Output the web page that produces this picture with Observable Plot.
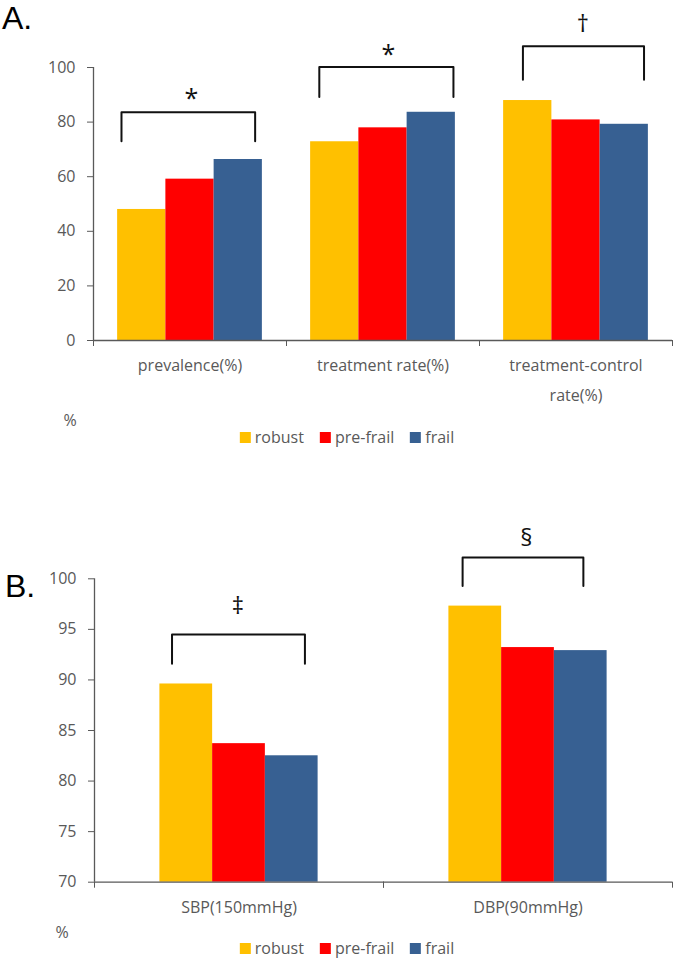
<!DOCTYPE html>
<html>
<head>
<meta charset="utf-8">
<script src="https://cdn.jsdelivr.net/npm/d3@7"></script>
<script src="https://cdn.jsdelivr.net/npm/@observablehq/plot@0.6"></script>
<style>
  body { margin: 0; background: #fff; }
  #fig { position: relative; width: 675px; height: 959px; font-family: "Open Sans", sans-serif; color: #595959; overflow: hidden; }
  .abs { position: absolute; }
  .letter { font-family: "Liberation Sans", sans-serif; font-size: 32px; line-height: normal; color: #000; }
  .pct { font-size: 16px; line-height: 16px; transform: translateX(-50%); }
  .legend { display: flex; align-items: center; font-size: 16px; line-height: 16px; transform: translateX(-50%); white-space: nowrap; }
  .legend .item { display: flex; align-items: center; margin-right: 16px; }
  .legend .item:last-child { margin-right: 0; }
  .legend .sw { width: 11px; height: 11px; margin-right: 4px; }
</style>
</head>
<body>
<div id="fig">
  <div id="panelA" class="abs" style="left:0;top:0"></div>
  <div id="panelB" class="abs" style="left:0;top:500px"></div>
  <div class="abs letter" style="left:2px;top:0px">A.</div>
  <div class="abs letter" style="left:5px;top:568px">B.</div>
  <div class="abs pct" style="left:70px;top:412px">%</div>
  <div class="abs pct" style="left:62px;top:924px">%</div>
  <div id="legendA" class="abs legend" style="left:347px;top:429px"></div>
  <div id="legendB" class="abs legend" style="left:347px;top:940px"></div>
</div>
<script>
// ---- data ----
const groups = ["robust", "pre-frail", "frail"];
const groupColors = ["#FFC000", "#FF0000", "#376092"];

const categoriesA = ["prevalence(%)", "treatment rate(%)", "treatment-control rate(%)"];
const categoryLabelsA = ["prevalence(%)", "treatment rate(%)", "treatment-control\nrate(%)"];
const robustA = [48.0, 72.8, 87.9];
const preFrailA = [59.1, 77.9, 80.8];
const frailA = [66.3, 83.6, 79.2];
const yTicksA = [0, 20, 40, 60, 80, 100];
const bracketLeftA = [0.08, 0.18, 0.40];
const bracketRightA = [2.85, 2.96, 2.91];
const bracketTopA = [83.6, 100.2, 107.8];
const bracketFootA = [73.0, 89.2, 95.5];
const symbolsA = ["*", "*", "†"];
const symbolXA = [1.53, 1.61, 1.64];
const symbolYA = [90.8, 106.6, 115.7];

const categoriesB = ["SBP(150mmHg)", "DBP(90mmHg)"];
const categoryLabelsB = ["SBP(150mmHg)", "DBP(90mmHg)"];
const robustB = [89.6, 97.3];
const preFrailB = [83.7, 93.2];
const frailB = [82.5, 92.9];
const yTicksB = [70, 75, 80, 85, 90, 95, 100];
const bracketLeftB = [0.23, 0.26];
const bracketRightB = [2.75, 2.55];
const bracketTopB = [94.5, 102.1];
const bracketFootB = [91.6, 99.3];
const symbolsB = ["‡", "§"];
const symbolXB = [1.48, 1.47];
const symbolYB = [97.3, 104.0];

const axisColor = "#595959";
const inkColor = "#111";

function panel(o) {
  const rows = [];
  o.categories.forEach((c, ci) => groups.forEach((g, gi) =>
    rows.push({category: c, group: g, value: o.series[gi][ci], x1: gi, x2: gi + 1})));
  const xDomain = [-o.outerPad, groups.length + o.outerPad];
  const bracketPts = [];
  o.categories.forEach((c, i) => {
    const l = o.bl[i], r = o.br[i], t = o.bt[i], f = o.bf[i];
    [[l, f], [l, t], [r, t], [r, f]].forEach(([x, y]) => bracketPts.push({category: c, x, y}));
  });
  const symbolRows = o.categories.map((c, i) => ({category: c, text: o.sym[i], x: o.sx[i], y: o.sy[i]}));
  const star = symbolRows.filter(d => d.text === "*");
  const other = symbolRows.filter(d => d.text !== "*");
  return Plot.plot({
    width: 675, height: o.height,
    marginLeft: 93, marginRight: 3, marginTop: o.marginTop, marginBottom: o.marginBottom,
    style: {fontFamily: '"Open Sans", sans-serif', fontSize: "16px", color: axisColor, background: "transparent", overflow: "visible"},
    fx: {domain: o.categories, padding: 0, axis: null},
    x: {domain: xDomain, axis: null},
    y: {domain: o.yDomain, axis: null},
    color: {domain: groups, range: groupColors},
    marks: [
      Plot.rect(rows, {fx: "category", x1: "x1", x2: "x2", y1: () => o.yDomain[0], y2: "value", fill: "group"}),
      Plot.ruleY([o.yDomain[0]], {stroke: axisColor, strokeWidth: 1.3}),
      Plot.ruleX([o.categories[0]], {fx: d => d, x: () => xDomain[0], y1: () => o.yDomain[0], y2: () => o.yDomain[1], stroke: axisColor, strokeWidth: 1.3}),
      Plot.axisY({ticks: o.yTicks, tickSize: 6, tickPadding: 12, label: null, stroke: axisColor, fill: axisColor}),
      Plot.axisX({ticks: xDomain, tickSize: 6, tickFormat: () => "", label: null, stroke: axisColor}),
      Plot.line(bracketPts, {fx: "category", x: "x", y: "y", z: "category", stroke: inkColor, strokeWidth: 2}),
      Plot.text(star, {fx: "category", x: "x", y: "y", text: "text", fontSize: 25, fill: inkColor, dy: 6}),
      Plot.text(other, {fx: "category", x: "x", y: "y", text: "text", fontSize: 24, fill: inkColor}),
      Plot.text(o.categories, {fx: d => d, text: (d, i) => o.labels[i], frameAnchor: "bottom", lineAnchor: "top", dy: 9, lineHeight: 1.9, fill: axisColor})
    ]
  });
}

function legend(el) {
  groups.forEach((g, i) => {
    const item = document.createElement("div");
    item.className = "item";
    const sw = document.createElement("div");
    sw.className = "sw";
    sw.style.background = groupColors[i];
    const lab = document.createElement("span");
    lab.textContent = g;
    item.appendChild(sw);
    item.appendChild(lab);
    el.appendChild(item);
  });
}

document.getElementById("panelA").appendChild(panel({
  categories: categoriesA, labels: categoryLabelsA, series: [robustA, preFrailA, frailA],
  yDomain: [0, 100], yTicks: yTicksA, outerPad: 0.5,
  bl: bracketLeftA, br: bracketRightA, bt: bracketTopA, bf: bracketFootA,
  sym: symbolsA, sx: symbolXA, sy: symbolYA,
  height: 410, marginTop: 67, marginBottom: 70
}));
document.getElementById("panelB").appendChild(panel({
  categories: categoriesB, labels: categoryLabelsB, series: [robustB, preFrailB, frailB],
  yDomain: [70, 100], yTicks: yTicksB, outerPad: 1.24,
  bl: bracketLeftB, br: bracketRightB, bt: bracketTopB, bf: bracketFootB,
  sym: symbolsB, sx: symbolXB, sy: symbolYB,
  height: 430, marginTop: 78.3, marginBottom: 48.3
}));
legend(document.getElementById("legendA"));
legend(document.getElementById("legendB"));
</script>
</body>
</html>
